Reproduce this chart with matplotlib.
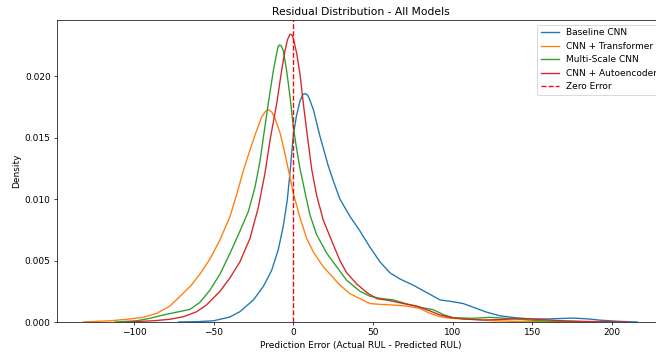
import matplotlib
matplotlib.use("Agg")
import matplotlib.pyplot as plt

DPI = 64.8
W, H = 656, 356

title = "Residual Distribution - All Models"
xlabel = "Prediction Error (Actual RUL - Predicted RUL)"
ylabel = "Density"

models = ["Baseline CNN", "CNN + Transformer", "Multi-Scale CNN", "CNN + Autoencoder"]

baseline_x = [-72, -60, -50, -40, -33.5, -25, -18.8, -13.6, -9.4, -6.3, -3.8, -2.1, 0, 2, 4.2, 6, 7.5, 9, 10,
              12.6, 16.8, 22, 25.1, 29.3, 35.6, 41.9, 48.1, 54.4, 60.7, 67, 75.3, 83.7, 92.1, 100.4,
              106.7, 113, 121.4, 129.8, 142.3, 150.7, 160, 175.8, 185, 192.5, 205, 216]
baseline_y = [0.0, 0.00003, 0.0001, 0.0004, 0.00084, 0.0018, 0.0029, 0.0042, 0.0059, 0.0078, 0.0099,
              0.0121, 0.0152, 0.0168, 0.0180, 0.01852, 0.0186, 0.01848, 0.0182, 0.0173, 0.0151, 0.0127,
              0.0115, 0.0100, 0.0086, 0.0074, 0.0061, 0.0049, 0.0040, 0.0035, 0.0030, 0.0024, 0.0018,
              0.00165, 0.0015, 0.0012, 0.0008, 0.0005, 0.0003, 0.00024, 0.00025, 0.00032, 0.00025,
              0.00015, 0.00005, 0.0]

transformer_x = [-132, -115, -104.6, -94.2, -85.8, -77.4, -71, -64, -58, -52, -46, -39.7, -35.5, -31.4,
                 -27.2, -23, -19.8, -17.5, -15.7, -13.5, -11.5, -8.3, -5.2, -3.1, 0, 4.2, 8.4, 12.6, 18.8,
                 25.1, 29.3, 35.6, 41.9, 48.1, 54.4, 62.8, 71.2, 79.5, 85.8, 92.1, 98.4, 113, 125.5, 140,
                 160, 185, 200]
transformer_y = [0.0, 0.0001, 0.00022, 0.00038, 0.0007, 0.0013, 0.0021, 0.0030, 0.0040, 0.0052, 0.0067,
                 0.0086, 0.0104, 0.0123, 0.0140, 0.0156, 0.0167, 0.01715, 0.0173, 0.0171, 0.0166, 0.0154,
                 0.0137, 0.0124, 0.0105, 0.0085, 0.0068, 0.0057, 0.0045, 0.0036, 0.0030, 0.0023, 0.0019,
                 0.0015, 0.00144, 0.00138, 0.0013, 0.0011, 0.0007, 0.00043, 0.0003, 0.00022, 0.0001,
                 0.00005, 0.00003, 0.00001, 0.0]

multiscale_x = [-112, -98.3, -90, -81.6, -73.2, -64.8, -58.6, -52.3, -46, -39.7, -33.5, -28.2, -24,
                -20.9, -18.8, -15.7, -12.6, -10.4, -9.6, -8.8, -7.6, -6.3, -4.2, -2.1, 0, 2.1, 4.2, 7.3,
                10.5, 14.7, 21, 27.2, 33.5, 41.9, 48.1, 54.4, 62.8, 71.2, 79.5, 87.9, 94.2, 100.4, 113,
                123.5, 140, 155, 170, 190, 205]
multiscale_y = [0.0, 0.0001, 0.0003, 0.00057, 0.0008, 0.00103, 0.0016, 0.0026, 0.0039, 0.0056, 0.0074,
                0.0090, 0.0110, 0.0131, 0.0150, 0.0178, 0.0204, 0.0219, 0.0224, 0.02256, 0.0225, 0.0221,
                0.0205, 0.0184, 0.0159, 0.0141, 0.0125, 0.0106, 0.0087, 0.0071, 0.0056, 0.0045, 0.0034,
                0.0025, 0.0021, 0.00193, 0.0018, 0.00147, 0.0012, 0.0010, 0.0006, 0.00035, 0.0003,
                0.00038, 0.00024, 0.0001, 0.00004, 0.00001, 0.0]

autoenc_x = [-105, -88, -77.4, -69, -60.6, -54.4, -46, -39.7, -33.5, -27.2, -22, -17.8, -14.6, -10.4,
             -7.3, -5.2, -3.6, -2.1, -1, 0, 2.1, 4.2, 6.3, 8.4, 11.6, 14.7, 18.8, 25.1, 29.3, 33.5, 39.8,
             46.1, 52.4, 60.7, 69, 77.5, 85.8, 92.1, 98.4, 106.7, 119.3, 134, 142.3, 150, 165, 185, 210]
autoenc_y = [0.0, 0.0001, 0.00022, 0.00043, 0.00084, 0.0014, 0.0025, 0.0036, 0.0049, 0.0068, 0.0093,
             0.0121, 0.0148, 0.0178, 0.0205, 0.0221, 0.0230, 0.02343, 0.0234, 0.0231, 0.0219, 0.0202,
             0.0178, 0.0156, 0.0124, 0.0103, 0.0083, 0.0063, 0.0050, 0.0040, 0.0031, 0.0024, 0.0019,
             0.00174, 0.0015, 0.0013, 0.0009, 0.00057, 0.00038, 0.00024, 0.00016, 0.00022, 0.0003,
             0.00025, 0.00012, 0.00004, 0.0]

series_x = [baseline_x, transformer_x, multiscale_x, autoenc_x]
series_y = [baseline_y, transformer_y, multiscale_y, autoenc_y]
colors = ["#1f77b4", "#ff7f0e", "#2ca02c", "#d62728"]

fig = plt.figure(figsize=(W / DPI, H / DPI), dpi=DPI)
left_px, right_px, top_px, bottom_px = 57, 665, 20.3, 322
ax = fig.add_axes([left_px / W, (H - bottom_px) / H, (right_px - left_px) / W, (bottom_px - top_px) / H])

for name, xs, ys, c in zip(models, series_x, series_y, colors):
    ax.plot(xs, ys, color=c, lw=1.5, label=name)

ax.axvline(0, color="red", linestyle="--", lw=1.5, label="Zero Error")

ax.set_xlim(-148.3, 233.3)
ax.set_ylim(0, 0.02457)
ax.set_xticks([-100, -50, 0, 50, 100, 150, 200])
ax.set_yticks([0.0, 0.005, 0.010, 0.015, 0.020])
ax.set_yticklabels(["0.000", "0.005", "0.010", "0.015", "0.020"])
ax.set_title(title, fontsize=12)
ax.set_xlabel(xlabel)
ax.set_ylabel(ylabel)
ax.legend(loc="upper right")

fig.savefig("out.png", dpi=DPI)
